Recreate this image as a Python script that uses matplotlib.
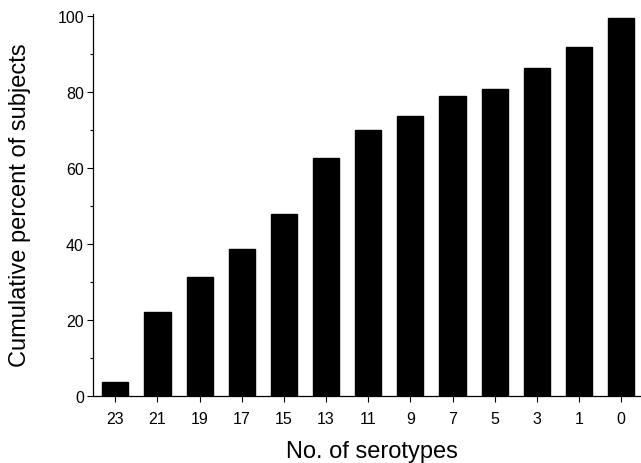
import matplotlib
matplotlib.use("Agg")
import matplotlib.pyplot as plt
from matplotlib.ticker import MultipleLocator

categories = ["23", "21", "19", "17", "15", "13", "11", "9", "7", "5", "3", "1", "0"]
values = [3.6, 22.2, 31.4, 38.8, 47.8, 62.6, 69.9, 73.7, 79.0, 80.8, 86.4, 91.8, 99.4]

plt.rcParams['font.family'] = ['Liberation Sans', 'DejaVu Sans']

fig = plt.figure(figsize=(6.41, 4.64), dpi=100)
ax = fig.add_axes([0.145, 0.1444, 0.853, 0.823])

x = list(range(len(categories)))
ax.bar(x, values, width=0.62, color='black', edgecolor='black')

ax.set_xlim(-0.53, 12.44)
ax.set_ylim(0, 100.5)
ax.set_xticks(x)
ax.set_xticklabels(categories, fontsize=11.5)
ax.yaxis.set_major_locator(MultipleLocator(20))
ax.yaxis.set_minor_locator(MultipleLocator(10))
ax.tick_params(axis='y', which='major', labelsize=11.5, length=4.5, width=0.8, direction='out', pad=2)
ax.tick_params(axis='y', which='minor', length=2, width=0.8, direction='out')
ax.tick_params(axis='x', which='major', length=4, width=0.8, direction='out', pad=7)

for s in ['top', 'right']:
    ax.spines[s].set_visible(False)
for s in ['left', 'bottom']:
    ax.spines[s].set_linewidth(0.9)

ax.set_xlabel("No. of serotypes", fontsize=17)
ax.set_ylabel("Cumulative percent of subjects", fontsize=17)
ax.xaxis.set_label_coords(0.511, -0.115)
ax.yaxis.set_label_coords(-0.113, 0.503)

fig.savefig("out.png", dpi=100)
